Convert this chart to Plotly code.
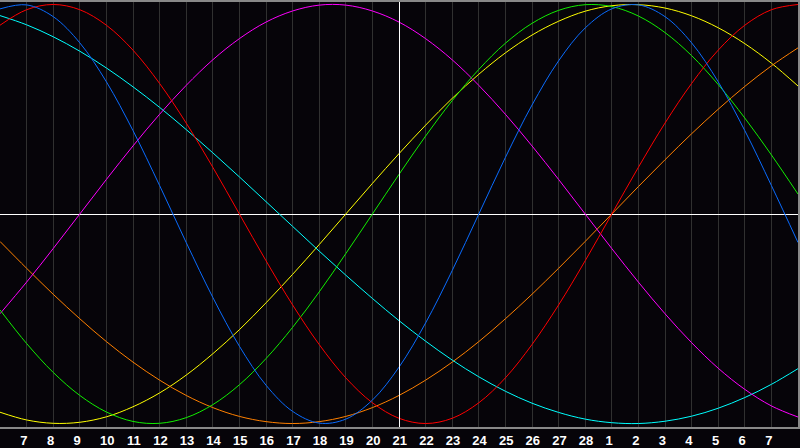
import plotly.graph_objects as go

# Day index 0..30 across the chart (index 15 = today, 21 Feb)
DAYS = list(range(31))
DAY_LABELS = ["7", "8", "9", "10", "11", "12", "13", "14", "15", "16", "17", "18", "19", "20",
              "21", "22", "23", "24", "25", "26", "27", "28",
              "1", "2", "3", "4", "5", "6", "7"]
LABEL_DAYS = list(range(1, 30))
TODAY = 15

physical_23 = [0.979, 0.998, 0.942, 0.817, 0.631, 0.398, 0.136, -0.136, -0.398, -0.631, -0.817,
               -0.942, -0.998, -0.979, -0.888, -0.731, -0.520, -0.270, 0.0, 0.270, 0.520, 0.731,
               0.888, 0.979, 0.998, 0.942, 0.817, 0.631, 0.398, 0.136, -0.136]
emotional_28 = [0.901, 0.975, 1.0, 0.975, 0.901, 0.782, 0.623, 0.434, 0.223, 0.0, -0.223, -0.434,
                -0.623, -0.782, -0.901, -0.975, -1.0, -0.975, -0.901, -0.782, -0.623, -0.434,
                -0.223, 0.0, 0.223, 0.434, 0.623, 0.782, 0.901, 0.975, 1.0]
intellectual_33 = [-0.458, -0.618, -0.756, -0.866, -0.945, -0.990, -0.999, -0.972, -0.910, -0.815,
                   -0.690, -0.541, -0.372, -0.189, 0.0, 0.189, 0.372, 0.541, 0.690, 0.815, 0.910,
                   0.972, 0.999, 0.990, 0.945, 0.866, 0.756, 0.618, 0.458, 0.282, 0.095]
intuitive_38 = [-0.476, -0.325, -0.165, 0.0, 0.165, 0.325, 0.476, 0.614, 0.736, 0.837, 0.916, 0.969,
                0.997, 0.997, 0.969, 0.916, 0.837, 0.736, 0.614, 0.476, 0.325, 0.165, 0.0, -0.165,
                -0.325, -0.476, -0.614, -0.736, -0.837, -0.916, -0.969]
aesthetic_43 = [-0.946, -0.983, -0.999, -0.994, -0.968, -0.920, -0.854, -0.769, -0.667, -0.552,
                -0.424, -0.288, -0.146, 0.0, 0.146, 0.288, 0.424, 0.552, 0.667, 0.769, 0.854,
                0.920, 0.968, 0.994, 0.999, 0.983, 0.946, 0.889, 0.813, 0.720, 0.611]
awareness_48 = [-0.131, -0.259, -0.383, -0.5, -0.609, -0.707, -0.793, -0.866, -0.924, -0.966,
                -0.991, -1.0, -0.991, -0.966, -0.924, -0.866, -0.793, -0.707, -0.609, -0.5,
                -0.383, -0.259, -0.131, 0.0, 0.131, 0.259, 0.383, 0.5, 0.609, 0.707, 0.793]
spiritual_53 = [0.947, 0.903, 0.846, 0.777, 0.697, 0.607, 0.509, 0.403, 0.292, 0.177, 0.059,
                -0.059, -0.177, -0.292, -0.403, -0.509, -0.607, -0.697, -0.777, -0.846, -0.903,
                -0.947, -0.979, -0.996, -1.0, -0.989, -0.965, -0.927, -0.876, -0.813, -0.738]

SERIES = [
    ("Aesthetic", aesthetic_43, "#ffff00"),
    ("Awareness", awareness_48, "#ff8000"),
    ("Spiritual", spiritual_53, "#00ffff"),
    ("Intuitive", intuitive_38, "#ff00ff"),
    ("Intellectual", intellectual_33, "#11ee00"),
    ("Emotional", emotional_28, "#ff0000"),
    ("Physical", physical_23, "#0a6cff"),
]

BG = "#060409"
X_RANGE = [0, 30]
PX_PER_DAY = 800 / (X_RANGE[1] - X_RANGE[0])

fig = go.Figure()
for name, vals, color in SERIES:
    fig.add_trace(go.Scatter(x=DAYS, y=vals, mode="lines", name=name,
                             line=dict(color=color, width=1, shape="spline", smoothing=1.0),
                             hoverinfo="skip"))

# label positions: text starts slightly left of the gridline
tickpos = [d - 0.1 if len(t) == 1 else d + 0.03 for d, t in zip(LABEL_DAYS, DAY_LABELS)]

# today marker nudged half a pixel so it renders as a crisp 1px line
today_x = TODAY + 0.5 / PX_PER_DAY

fig.update_layout(
    width=800, height=448,
    margin=dict(l=0, r=0, t=0, b=20),
    paper_bgcolor=BG, plot_bgcolor=BG,
    showlegend=False,
    xaxis=dict(range=X_RANGE, tickmode="array", tickvals=tickpos, ticktext=DAY_LABELS,
               showgrid=False, zeroline=False, ticks="",
               tickfont=dict(family="Liberation Sans", size=13, color="#ffffff", weight="bold"),
               showline=True, linecolor="#888888", linewidth=2, mirror=True,
               minor=dict(tick0=0, dtick=1, showgrid=True, gridcolor="#303030", gridwidth=1, ticks="")),
    yaxis=dict(range=[-1.01659, 1.01185], showticklabels=False, showgrid=False,
               zeroline=True, zerolinecolor="#ffffff", zerolinewidth=1, ticks="",
               showline=True, linecolor="#888888", linewidth=2, mirror=True),
    shapes=[dict(type="line", x0=today_x, x1=today_x, y0=0, y1=1, xref="x", yref="paper",
                 line=dict(color="#ffffff", width=1), layer="above")],
)

fig.write_html(
    "out.html",
    config={"displayModeBar": False},
    post_script="document.body.style.margin='0';document.body.style.background='#060409';",
)
